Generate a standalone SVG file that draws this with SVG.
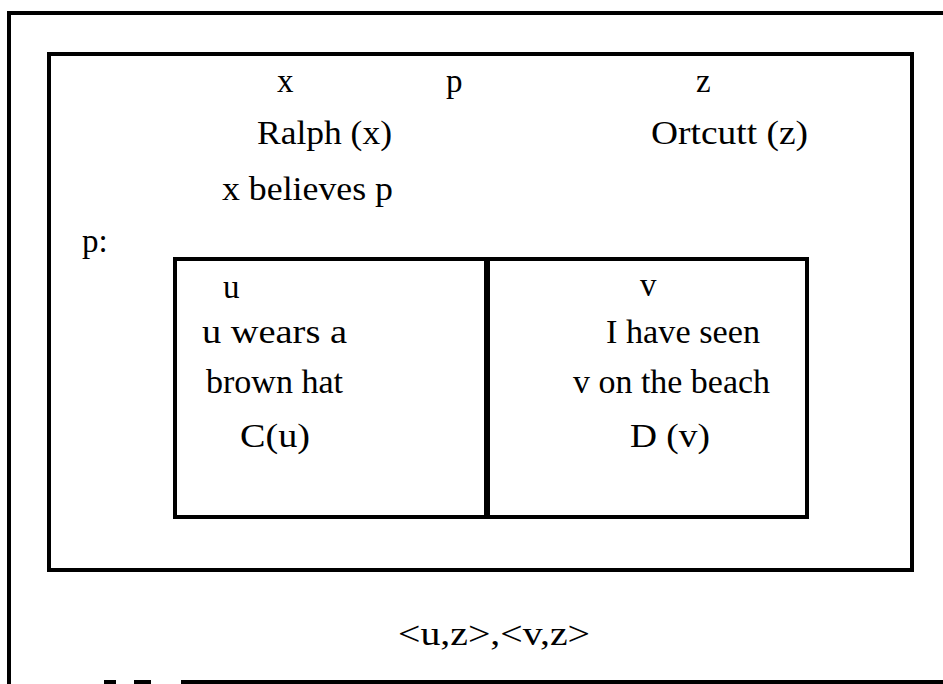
<svg xmlns="http://www.w3.org/2000/svg" width="943" height="684" viewBox="0 0 943 684">
<style>
.b{fill:none;stroke:#000;stroke-width:4;stroke-linecap:square;stroke-linejoin:miter}
.t{font-family:"Liberation Serif","Times New Roman",serif;font-size:33px;fill:#000}
</style>
<rect width="943" height="684" fill="#fff"/>
<g id="outer">
<path class="b" d="M9,684 V13 H943"/>
<path class="b" d="M183,682 H943 M106,682 H114 M136,682 H149"/>
</g>
<g id="drs-main">
<rect class="b" x="49" y="54" width="863" height="516"/>
<text class="t" x="277" y="92">x</text>
<text class="t" x="446" y="92">p</text>
<text class="t" x="696" y="92">z</text>
<text class="t" x="257" y="144" textLength="135" lengthAdjust="spacingAndGlyphs">Ralph (x)</text>
<text class="t" x="651" y="144" textLength="157" lengthAdjust="spacingAndGlyphs">Ortcutt (z)</text>
<text class="t" x="222" y="200" textLength="171" lengthAdjust="spacingAndGlyphs">x believes p</text>
<text class="t" x="82" y="252">p:</text>
</g>
<g id="box-u">
<rect class="b" x="175" y="259" width="312" height="258"/>
<text class="t" x="223" y="298">u</text>
<text class="t" x="202" y="343" textLength="145" lengthAdjust="spacingAndGlyphs">u wears a</text>
<text class="t" x="206" y="393" textLength="137" lengthAdjust="spacingAndGlyphs">brown hat</text>
<text class="t" x="240" y="447" textLength="70" lengthAdjust="spacingAndGlyphs">C(u)</text>
</g>
<g id="box-v">
<rect class="b" x="487" y="259" width="320" height="258"/>
<line x1="487" y1="259" x2="487" y2="517" stroke="#000" stroke-width="6"/>
<text class="t" x="640" y="296">v</text>
<text class="t" x="606" y="343" textLength="154" lengthAdjust="spacingAndGlyphs">I have seen</text>
<text class="t" x="573" y="393" textLength="197" lengthAdjust="spacingAndGlyphs">v on the beach</text>
<text class="t" x="630" y="447" textLength="80" lengthAdjust="spacingAndGlyphs">D (v)</text>
</g>
<g id="anchors">
<text class="t" x="398" y="645" textLength="192" lengthAdjust="spacingAndGlyphs">&lt;u,z&gt;,&lt;v,z&gt;</text>
</g>
<g id="connectors"/>
</svg>
